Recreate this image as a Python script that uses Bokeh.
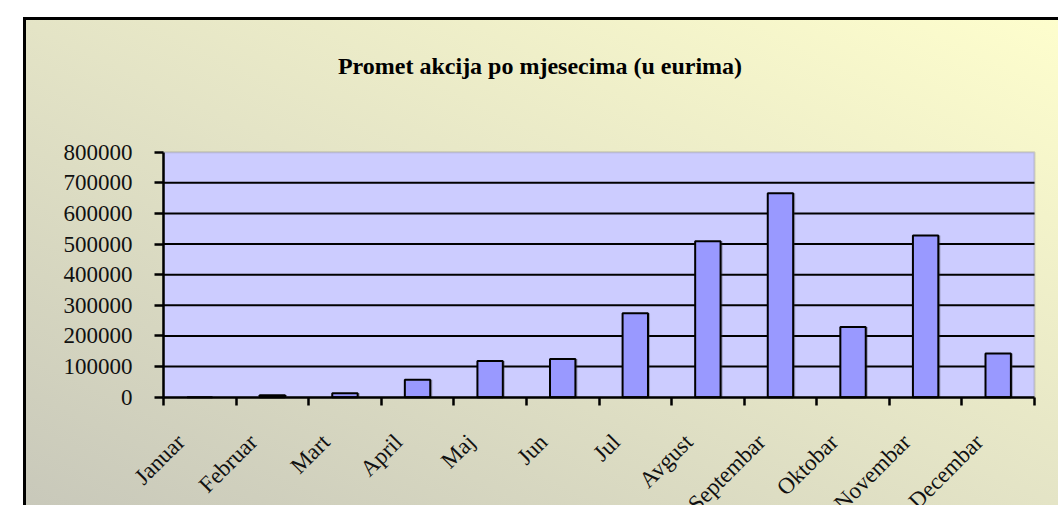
import math
from bokeh.plotting import figure
from bokeh.models import (FixedTicker, LabelSet, Label, ColumnDataSource, Range1d,
                          BoxAnnotation)
from bokeh.transform import dodge
from bokeh.embed import file_html
from bokeh.resources import INLINE

# ---- data ----
months = ["Januar", "Februar", "Mart", "April", "Maj", "Jun", "Jul",
          "Avgust", "Septembar", "Oktobar", "Novembar", "Decembar"]
values = [0, 6000, 13000, 57000, 118000, 125000, 274000,
          509000, 666000, 229000, 528000, 143000]
y_ticks = [0, 100000, 200000, 300000, 400000, 500000, 600000, 700000, 800000]
y_tick_labels = ["0", "100000", "200000", "300000", "400000", "500000",
                 "600000", "700000", "800000"]
title_text = "Promet akcija po mjesecima (u eurima)"

FONT = "Liberation Serif"
n = len(months)
y_max = y_ticks[-1]

# ---- layout (page pixels; canvas placed at page origin) ----
W, H = 1058, 505
MB_LEFT, MB_BOTTOM = 0, 0
PA_LEFT, PA_RIGHT = 163.0, 1034.0      # plot-area left/right
PA_TOP, PA_BOTTOM = 151.7, 396.7       # plot-area top/bottom
frame_w = W - MB_LEFT
frame_h = H - MB_BOTTOM
px_x = (PA_RIGHT - PA_LEFT) / n
px_y = (PA_BOTTOM - PA_TOP) / y_max
x_start = -(PA_LEFT - MB_LEFT) / px_x
x_end = x_start + frame_w / px_x
y_end = y_max + PA_TOP / px_y
y_start = y_end - frame_h / px_y

centers = [i + 0.5 for i in range(n)]
src = ColumnDataSource(dict(x=centers, top=values, month=months, base=[0] * n))

p = figure(width=W, height=H, output_backend="svg", toolbar_location=None,
           x_range=Range1d(x_start, x_end), y_range=Range1d(y_start, y_end),
           min_border_left=MB_LEFT, min_border_right=0,
           min_border_top=0, min_border_bottom=MB_BOTTOM)

p.styles = {
    "position": "absolute",
    "left": "0px",
    "top": "0px",
    "background": ("linear-gradient(#000,#000) 23px 17px / 3px 100% no-repeat, "
                   "linear-gradient(#000,#000) 23px 17px / 100% 3px no-repeat, "
                   "linear-gradient(25deg, #c8c8ba 0%, #e4e4c6 50%, #fefecd 100%) "
                   "23px 17px / 1040px 495px no-repeat, #ffffff"),
}
p.border_fill_alpha = 0
p.background_fill_alpha = 0
p.outline_line_color = None
p.xgrid.visible = False
p.ygrid.visible = False

# plot area
p.add_layout(BoxAnnotation(left=0, right=n, bottom=0, top=y_max,
                           fill_color="#ccccff", fill_alpha=1,
                           line_color="#808080", line_width=2, level="underlay"))

# horizontal grid lines across the plot area
grid_vals = y_ticks[1:-1]
p.segment(x0=[0] * len(grid_vals), x1=[n] * len(grid_vals), y0=grid_vals, y1=grid_vals,
          line_color="black", line_width=2)

# y axis
yax = p.yaxis[0]
yax.fixed_location = 0
yax.bounds = (0, y_max)
yax.ticker = FixedTicker(ticks=y_ticks)
yax.major_label_overrides = {t: l for t, l in zip(y_ticks, y_tick_labels)}
yax.major_tick_in = 0
yax.major_tick_out = 9
yax.minor_tick_line_color = None
yax.axis_line_width = 2.5
yax.major_tick_line_width = 2.5
yax.major_label_standoff = 22
yax.major_label_text_font = FONT
yax.major_label_text_font_size = "23px"
yax.major_label_text_color = "#111111"

# x axis: ticks at category boundaries (category names drawn as rotated labels)
xax = p.xaxis[0]
xax.fixed_location = 0
xax.bounds = (0, n)
xax.ticker = FixedTicker(ticks=list(range(n + 1)))
xax.major_tick_in = 0
xax.major_tick_out = 8
xax.minor_tick_line_color = None
xax.axis_line_width = 2.5
xax.major_tick_line_width = 2.5
xax.major_label_text_color = None

# bars with a faint shadow
p.vbar(x=dodge("x", 0.028, range=p.x_range), top="top", bottom="base", width=0.35,
       source=src, fill_color="#333333", fill_alpha=0.35, line_color=None)
p.vbar(x="x", top="top", bottom="base", width=0.35, source=src,
       fill_color="#9999ff", line_color="black", line_width=2)

# rotated category labels
p.add_layout(LabelSet(x="x", y="base", text="month", source=src,
                      x_offset=-19, y_offset=-41, angle=math.pi / 4,
                      text_align="right", text_baseline="middle",
                      text_font=FONT, text_font_size="23px", text_color="#111111"))

# chart title
p.add_layout(Label(x=539.5 - MB_LEFT, y=frame_h - 65.8, x_units="screen", y_units="screen",
                   text=title_text, text_align="center", text_baseline="middle",
                   text_font=FONT, text_font_size="24px", text_font_style="bold",
                   text_color="#000000"))

open("out.html", "w").write(file_html(p, INLINE))
